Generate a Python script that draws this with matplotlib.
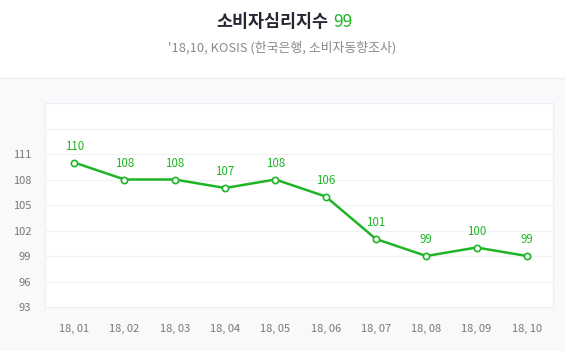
import matplotlib
matplotlib.use("Agg")
from matplotlib import pyplot as plt
from matplotlib.lines import Line2D

plt.rcParams['font.family'] = ['Noto Sans CJK KR', 'DejaVu Sans']

months = ["18, 01", "18, 02", "18, 03", "18, 04", "18, 05",
          "18, 06", "18, 07", "18, 08", "18, 09", "18, 10"]
values = [110, 108, 108, 107, 108, 106, 101, 99, 100, 99]
yticks = [93, 96, 99, 102, 105, 108, 111]
grid_y = [96, 99, 102, 105, 108, 111, 114]

green = "#1fb526"
W, H = 565, 351

fig = plt.figure(figsize=(W / 100, H / 100), dpi=100)
fig.patch.set_facecolor("#f8f9fb")

# white header band
hdr = fig.add_axes([0, 1 - 78 / H, 1, 78 / H])
hdr.set_facecolor("white")
hdr.set_xticks([]), hdr.set_yticks([])
for s in hdr.spines.values():
    s.set_visible(False)
fig.add_artist(Line2D([0, 1], [1 - 78 / H, 1 - 78 / H], color="#ebedf0", lw=1))

fig.text(328 / W, 1 - 22 / H, "소비자심리지수", ha="right", va="center",
         fontsize=12.5, color="#2b2433", fontweight="bold")
fig.text(333 / W, 1 - 22 / H, str(values[-1]), ha="left", va="center",
         fontsize=12.5, color=green)
fig.text(0.5, 1 - 48 / H, "'18,10, KOSIS (한국은행, 소비자동향조사)", ha="center",
         va="center", fontsize=9.3, color="#8a8a8a")

ax = fig.add_axes([45 / W, (H - 307) / H, 508 / W, 204 / H])
ax.set_facecolor("white")
x = list(range(len(months)))
ax.plot(x, values, color=green, lw=1.8, marker="o", ms=4.5,
        mfc="white", mec=green, mew=1.2, zorder=3)
for xi, v in zip(x, values):
    ax.annotate(str(v), (xi, v), xytext=(0, 7), textcoords="offset points",
                ha="center", va="bottom", fontsize=8.3, color=green)

for g in grid_y:
    ax.axhline(g, color="#f0f1f3", lw=0.8, zorder=1)

ax.set_xlim(-0.58, 9.52)
ax.set_ylim(93, 117)
ax.set_yticks(yticks)
ax.set_xticks(x)
ax.set_xticklabels(months)
ax.tick_params(length=0, labelsize=8, labelcolor="#777777", pad=12)
ax.tick_params(axis="y", pad=10)
for s in ax.spines.values():
    s.set_color("#eceef1")
    s.set_linewidth(0.8)

fig.savefig("out.png", dpi=100, facecolor=fig.get_facecolor())
